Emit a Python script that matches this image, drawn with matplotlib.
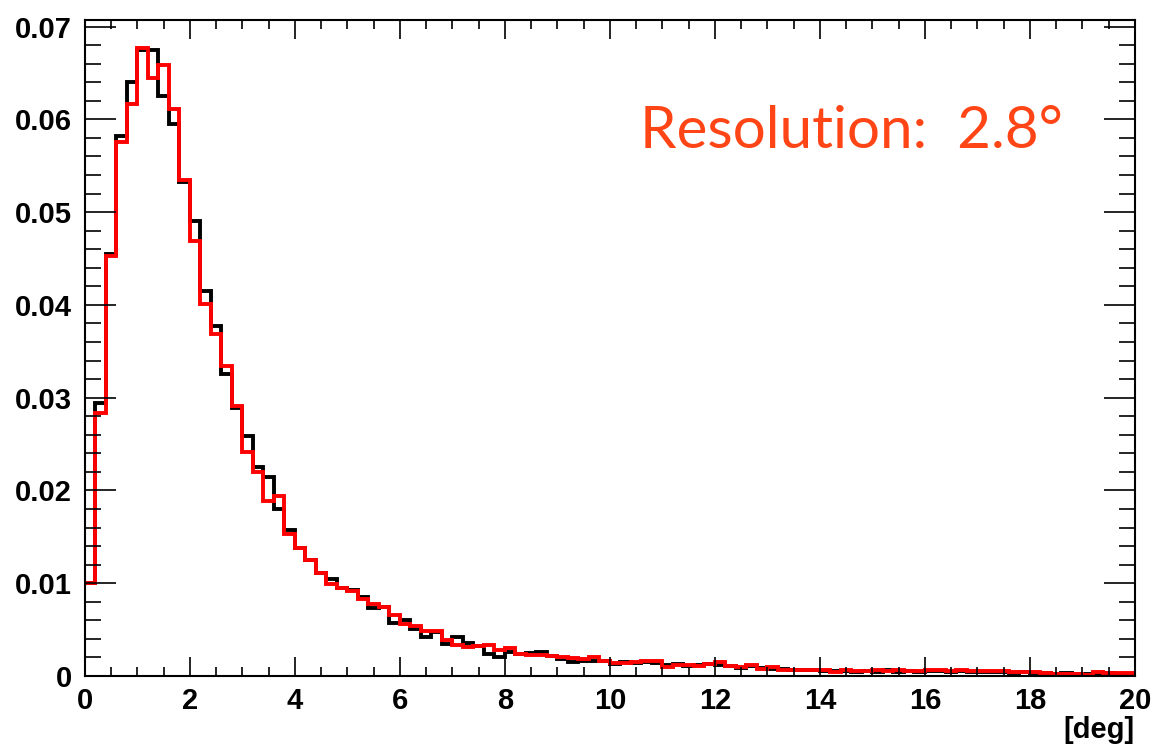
import numpy as np
import matplotlib
matplotlib.use('Agg')
import matplotlib.pyplot as plt
from matplotlib.ticker import MultipleLocator, FuncFormatter

# bin edges: 100 bins of 0.2 deg from 0 to 20
x_min, x_max, n_bins = 0.0, 20.0, 100

black_vals = [
    0.0100, 0.0294, 0.0455, 0.0582, 0.0640, 0.0675, 0.0675, 0.0625, 0.0595, 0.0532,
    0.0490, 0.0415, 0.0377, 0.0325, 0.0289, 0.0259, 0.0225, 0.0214, 0.0180, 0.0157,
    0.0138, 0.0125, 0.0111, 0.0105, 0.0095, 0.0093, 0.0085, 0.0073, 0.0074, 0.0057,
    0.0060, 0.0051, 0.0042, 0.0047, 0.0034, 0.0042, 0.0036, 0.0032, 0.0024, 0.0021,
    0.0026, 0.0024, 0.0025, 0.0026, 0.0022, 0.0018, 0.0015, 0.0016, 0.0016, 0.0016,
    0.0013, 0.0015, 0.0014, 0.0015, 0.0014, 0.0012, 0.0013, 0.0011, 0.0012, 0.0013,
    0.0012, 0.0011, 0.0009, 0.0011, 0.0009, 0.0008, 0.0008, 0.0006, 0.0007, 0.0006,
    0.0005, 0.0005, 0.0005, 0.0004, 0.0005, 0.0004, 0.0006, 0.0004, 0.0005, 0.0004,
    0.0005, 0.0005, 0.0004, 0.0005, 0.0004, 0.0004, 0.0004, 0.0004, 0.0003, 0.0004,
    0.0003, 0.0003, 0.0002, 0.0003, 0.0002, 0.0002, 0.0002, 0.0003, 0.0002, 0.0002,
]

red_vals = [
    0.0100, 0.0283, 0.0453, 0.0576, 0.0617, 0.0677, 0.0645, 0.0658, 0.0611, 0.0535,
    0.0469, 0.0401, 0.0369, 0.0334, 0.0291, 0.0241, 0.0220, 0.0189, 0.0194, 0.0153,
    0.0138, 0.0125, 0.0111, 0.0099, 0.0095, 0.0092, 0.0083, 0.0078, 0.0074, 0.0066,
    0.0056, 0.0054, 0.0049, 0.0049, 0.0039, 0.0033, 0.0031, 0.0032, 0.0033, 0.0028,
    0.0030, 0.0024, 0.0023, 0.0023, 0.0022, 0.0021, 0.0019, 0.0018, 0.0020, 0.0016,
    0.0014, 0.0014, 0.0015, 0.0016, 0.0016, 0.0010, 0.0012, 0.0012, 0.0011, 0.0013,
    0.0015, 0.0011, 0.0010, 0.0012, 0.0008, 0.0010, 0.0007, 0.0007, 0.0007, 0.0006,
    0.0006, 0.0004, 0.0006, 0.0005, 0.0005, 0.0007, 0.0005, 0.0007, 0.0005, 0.0005,
    0.0006, 0.0006, 0.0005, 0.0006, 0.0005, 0.0005, 0.0005, 0.0005, 0.0004, 0.0004,
    0.0004, 0.0003, 0.0002, 0.0002, 0.0002, 0.0001, 0.0004, 0.0003, 0.0003, 0.0003,
]

annotation = 'Resolution:  2.8°'
x_label = '[deg]'

edges = np.linspace(x_min, x_max, n_bins + 1)

plt.rcParams['font.family'] = ['Liberation Sans', 'DejaVu Sans']

fig = plt.figure(figsize=(11.56, 7.44), dpi=100)
ax = fig.add_axes([0.0733, 0.0914, 0.9085, 0.8817])

ax.stairs(black_vals, edges, baseline=None, color='black', linewidth=2.8)
ax.stairs(red_vals, edges, baseline=None, color='#ff0000', linewidth=2.8)

ax.set_xlim(x_min, x_max)
ax.set_ylim(0, 0.0707)

ax.xaxis.set_major_locator(MultipleLocator(2))
ax.xaxis.set_minor_locator(MultipleLocator(0.5))
ax.yaxis.set_major_locator(MultipleLocator(0.01))
ax.yaxis.set_minor_locator(MultipleLocator(0.002))

ax.xaxis.set_major_formatter(FuncFormatter(lambda v, p: '0' if v == 0 else f'{v:g}'))
ax.yaxis.set_major_formatter(FuncFormatter(lambda v, p: '0' if abs(v) < 1e-9 else f'{v:.2f}'))

ax.tick_params(which='both', direction='in', top=True, right=True, width=1.2)
ax.tick_params(axis='x', which='major', length=13.7, pad=8)
ax.tick_params(axis='x', which='minor', length=6.8)
ax.tick_params(axis='y', which='major', length=22, pad=9)
ax.tick_params(axis='y', which='minor', length=11.5)

for lbl in ax.get_xticklabels() + ax.get_yticklabels():
    lbl.set_fontsize(21)
    lbl.set_fontweight('bold')

for sp in ax.spines.values():
    sp.set_linewidth(1.5)

ax.set_xlabel(x_label, loc='right', fontsize=21, fontweight='bold', labelpad=1)

ax.text(0.931, 0.805, annotation, transform=ax.transAxes, ha='right', va='baseline',
        fontsize=42, color='#ff4516', family=['Lato', 'DejaVu Sans'])

fig.savefig('out.png', dpi=100)
